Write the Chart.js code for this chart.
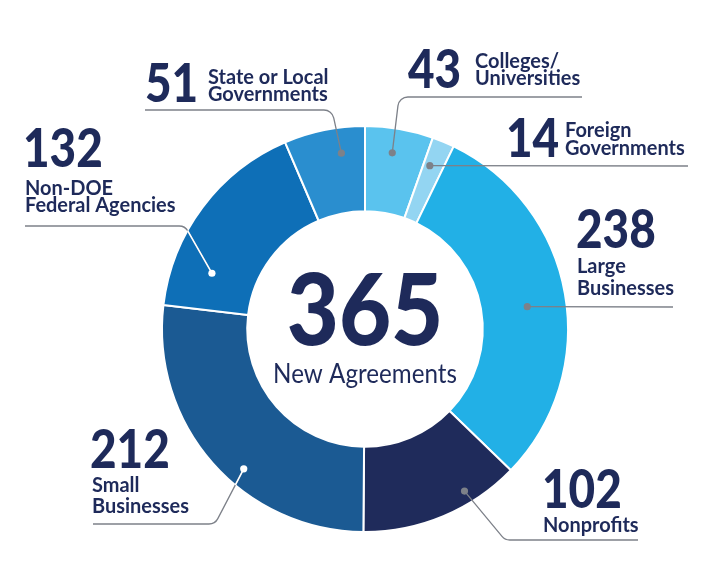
<!DOCTYPE html>
<html>
<head>
<meta charset="utf-8">
<script src="https://cdn.jsdelivr.net/npm/chart.js@4.4.1/dist/chart.umd.min.js"></script>
<style>
  html, body { margin: 0; padding: 0; background: #fff; }
</style>
</head>
<body>
<canvas id="agreementsChart" width="720" height="575"></canvas>
<script>
// Data
const categories = ['Colleges/Universities', 'Foreign Governments', 'Large Businesses', 'Nonprofits',
  'Small Businesses', 'Non-DOE Federal Agencies', 'State or Local Governments'];
const agreements = [43, 14, 238, 102, 212, 132, 51];
const labelLines = [['Colleges/', 'Universities'], ['Foreign', 'Governments'], ['Large', 'Businesses'],
  ['Nonprofits'], ['Small', 'Businesses'], ['Non-DOE', 'Federal Agencies'], ['State or Local', 'Governments']];
const totalAgreements = '365';
const centerCaption = 'New Agreements';

const sliceColors = ['#5ac3ee', '#93d5f2', '#22b0e6', '#1f2b5b', '#1b5a93', '#0e6fb7', '#2a8ecf'];
const navy = '#1e2a5a';
const leaderGray = '#7d8189';

// callout layout: number pos, text x + baselines, dot (fraction of slice angle / ring depth), leader path
const callouts = [
  { num: [408, 88], tx: 475, ty: [68, 85], dot: [0.45, 0.71], path: [[399, 97], [582, 97]] },
  { num: [506, 157], tx: 565, ty: [137, 155], dot: [0.33, 0.68], path: [[688, 166]] },
  { num: [576, 248], tx: 577, ty: [273, 295], dot: [0.52, 0.54], path: [[673, 307]] },
  { num: [542, 508], tx: 543, ty: [532], dot: [0.31, 0.85], path: [[505, 540], [638, 540]] },
  { num: [90, 468], tx: 92, ty: [492, 513], dot: [0.42, 0.79], path: [[215, 524], [93, 524]], light: true },
  { num: [23, 167], tx: 25, ty: [195, 212], dot: [0.22, 0.53], path: [[185, 226], [25, 226]], light: true },
  { num: [145, 102], tx: 208, ty: [84, 101], dot: [0.67, 0.70], path: [[332, 110], [145, 110]] }
];

function scaledText(ctx, str, x, y, font, sx, align) {
  ctx.save();
  ctx.font = font;
  ctx.textAlign = align || 'left';
  ctx.textBaseline = 'alphabetic';
  ctx.translate(x, y);
  ctx.scale(sx, 1);
  ctx.fillText(str, 0, 0);
  ctx.restore();
}

function tracePath(ctx, pts, radius) {
  ctx.beginPath();
  ctx.moveTo(pts[0][0], pts[0][1]);
  for (let k = 1; k < pts.length - 1; k++) {
    ctx.arcTo(pts[k][0], pts[k][1], pts[k + 1][0], pts[k + 1][1], radius);
  }
  ctx.lineTo(pts[pts.length - 1][0], pts[pts.length - 1][1]);
}

const calloutPlugin = {
  id: 'callouts',
  afterDraw(chart) {
    const ctx = chart.ctx;
    const arcs = chart.getDatasetMeta(0).data;
    const c0 = arcs[0].getProps(['x', 'y', 'innerRadius', 'outerRadius'], true);

    callouts.forEach((c, i) => {
      const p = arcs[i].getProps(['x', 'y', 'startAngle', 'endAngle', 'innerRadius', 'outerRadius'], true);
      const a = p.startAngle + c.dot[0] * (p.endAngle - p.startAngle);
      const r = p.innerRadius + c.dot[1] * (p.outerRadius - p.innerRadius);
      const dx = p.x + Math.cos(a) * r;
      const dy = p.y + Math.sin(a) * r;
      const pts = [[dx, dy]].concat(c.path);

      // leader line
      ctx.save();
      ctx.strokeStyle = leaderGray;
      ctx.lineWidth = 1.3;
      tracePath(ctx, pts, 10);
      ctx.stroke();
      if (c.light) {
        // part inside the ring is white
        ctx.save();
        ctx.beginPath();
        ctx.arc(c0.x, c0.y, c0.outerRadius, 0, Math.PI * 2);
        ctx.arc(c0.x, c0.y, c0.innerRadius, 0, Math.PI * 2, true);
        ctx.clip();
        ctx.strokeStyle = '#ffffff';
        ctx.lineWidth = 1.6;
        tracePath(ctx, pts, 10);
        ctx.stroke();
        ctx.restore();
      }
      ctx.beginPath();
      ctx.arc(dx, dy, 3.6, 0, Math.PI * 2);
      ctx.fillStyle = c.light ? '#ffffff' : leaderGray;
      ctx.fill();
      ctx.restore();

      // number and label
      ctx.fillStyle = navy;
      scaledText(ctx, String(agreements[i]), c.num[0], c.num[1], '900 54px Lato', 0.85);
      labelLines[i].forEach((line, k) => {
        scaledText(ctx, line, c.tx, c.ty[k], 'bold 21px Lato', 0.95);
      });
    });

    // center text
    ctx.fillStyle = navy;
    scaledText(ctx, totalAgreements, c0.x, 345, '900 100px Lato', 0.9, 'center');
    scaledText(ctx, centerCaption, c0.x, 383, '26px Lato', 0.93, 'center');
  }
};

const agreementsChart = new Chart(document.getElementById('agreementsChart'), {
  type: 'doughnut',
  data: {
    labels: categories,
    datasets: [
      {
        label: 'Agreements',
        data: agreements,
        backgroundColor: sliceColors,
        borderColor: '#ffffff',
        borderWidth: 2,
        hoverBorderWidth: 2,
        hoverOffset: 0,
      },
    ],
  },
  options: {
    responsive: false,
    animation: false,
    events: [],
    cutout: '58%',
    layout: {
      padding: { left: 161, right: 151, top: 125, bottom: 42 },
    },
    plugins: {
      legend: { display: false },
      tooltip: { enabled: false },
    },
  },
  plugins: [calloutPlugin],
});
</script>
</body>
</html>
